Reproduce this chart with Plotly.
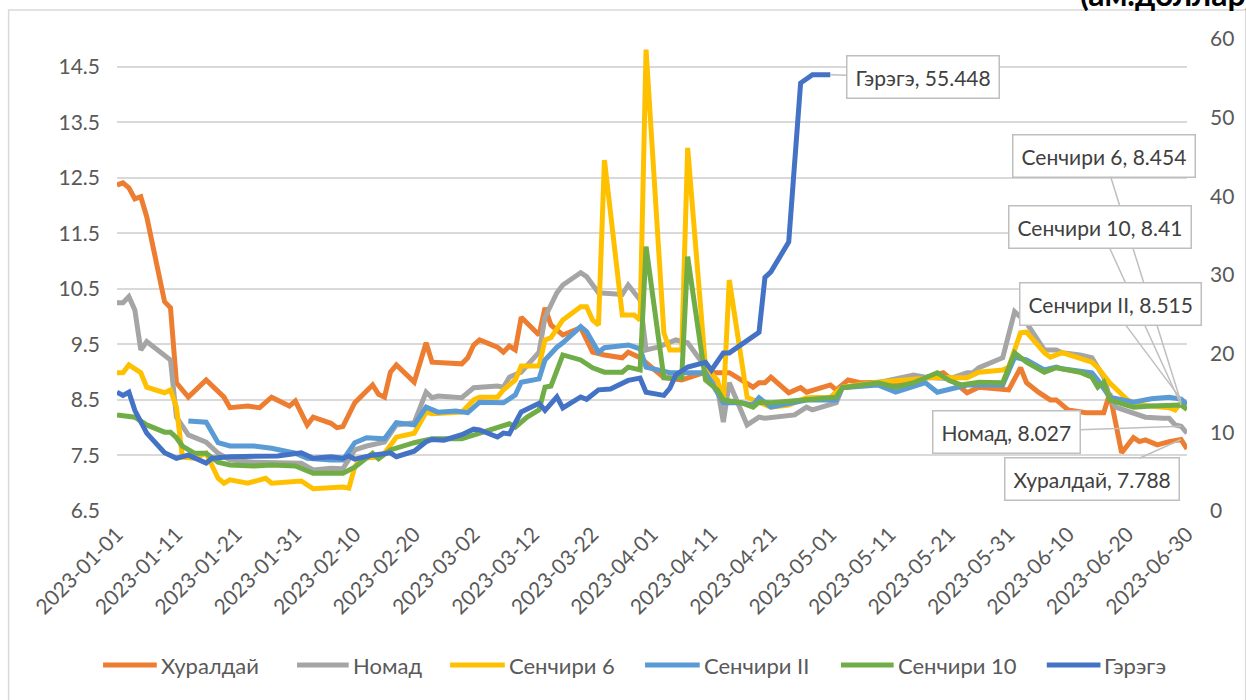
import plotly.graph_objects as go

# ---------------- data ----------------
hur_dates = ["2023-01-01","2023-01-02","2023-01-03","2023-01-04","2023-01-05","2023-01-06","2023-01-09","2023-01-10",
             "2023-01-11","2023-01-13","2023-01-16","2023-01-19","2023-01-20","2023-01-23","2023-01-25","2023-01-27",
             "2023-01-30","2023-01-31","2023-02-02","2023-02-03","2023-02-06","2023-02-07","2023-02-08","2023-02-10",
             "2023-02-13","2023-02-14","2023-02-15","2023-02-16","2023-02-17","2023-02-20","2023-02-22","2023-02-23",
             "2023-02-28","2023-03-01","2023-03-02","2023-03-03","2023-03-06","2023-03-07","2023-03-08","2023-03-09",
             "2023-03-10","2023-03-13","2023-03-14","2023-03-15","2023-03-17","2023-03-20","2023-03-22","2023-03-24",
             "2023-03-27","2023-03-28","2023-03-30","2023-04-03","2023-04-06","2023-04-10","2023-04-12","2023-04-14",
             "2023-04-16","2023-04-18","2023-04-19","2023-04-20","2023-04-21","2023-04-24","2023-04-26","2023-04-27",
             "2023-05-01","2023-05-02","2023-05-04","2023-05-06","2023-05-10","2023-05-12","2023-05-16","2023-05-17",
             "2023-05-20","2023-05-22","2023-05-24","2023-05-26","2023-05-31","2023-06-02","2023-06-03","2023-06-05",
             "2023-06-07","2023-06-08","2023-06-10","2023-06-13","2023-06-16","2023-06-17","2023-06-19","2023-06-21",
             "2023-06-22","2023-06-23","2023-06-25","2023-06-27","2023-06-29","2023-06-30"]
hur_vals = [12.37,12.41,12.32,12.12,12.16,11.80,10.27,10.16,
            8.81,8.55,8.86,8.55,8.36,8.39,8.36,8.55,
            8.39,8.48,8.05,8.19,8.08,8.00,8.02,8.45,
            8.77,8.60,8.55,9.00,9.13,8.82,9.53,9.18,
            9.15,9.26,9.49,9.58,9.45,9.36,9.47,9.40,
            9.99,9.67,10.16,9.85,9.67,9.80,9.36,9.31,
            9.26,9.36,9.26,8.90,8.86,9.00,8.99,8.99,
            8.86,8.73,8.81,8.81,8.91,8.63,8.72,8.64,
            8.77,8.68,8.86,8.81,8.82,8.77,8.86,8.90,
            8.99,8.80,8.63,8.73,8.68,9.08,8.81,8.64,
            8.50,8.50,8.32,8.27,8.27,8.62,7.55,7.82,
            7.75,7.78,7.69,7.75,7.788,7.62]

nom_dates = ["2023-01-01","2023-01-02","2023-01-03","2023-01-04","2023-01-05","2023-01-06","2023-01-10","2023-01-11",
             "2023-01-13","2023-01-16","2023-01-18","2023-01-20","2023-01-24","2023-01-28","2023-02-01","2023-02-03",
             "2023-02-06","2023-02-08","2023-02-10","2023-02-12","2023-02-15","2023-02-17","2023-02-20","2023-02-22",
             "2023-02-23","2023-02-24","2023-02-28","2023-03-02","2023-03-06","2023-03-07","2023-03-08","2023-03-10",
             "2023-03-13","2023-03-14","2023-03-16","2023-03-17","2023-03-20","2023-03-21","2023-03-23","2023-03-27",
             "2023-03-28","2023-03-30","2023-03-31","2023-04-02","2023-04-05","2023-04-07","2023-04-10","2023-04-12",
             "2023-04-13","2023-04-14","2023-04-17","2023-04-19","2023-04-20","2023-04-25","2023-04-27","2023-04-28",
             "2023-05-02","2023-05-03","2023-05-09","2023-05-15","2023-05-17","2023-05-21","2023-05-24","2023-05-25",
             "2023-05-26","2023-05-30","2023-06-01","2023-06-03","2023-06-06","2023-06-08","2023-06-09","2023-06-12",
             "2023-06-14","2023-06-16","2023-06-17","2023-06-18","2023-06-21","2023-06-23","2023-06-26","2023-06-27",
             "2023-06-28","2023-06-29","2023-06-30"]
nom_vals = [10.25,10.25,10.36,10.12,9.40,9.55,9.22,8.19,
            7.87,7.74,7.54,7.42,7.38,7.38,7.36,7.24,
            7.27,7.26,7.60,7.67,7.74,8.05,8.09,8.64,
            8.54,8.57,8.54,8.72,8.75,8.73,8.91,9.00,
            9.36,9.99,10.43,10.57,10.79,10.72,10.43,10.40,
            10.57,10.30,9.40,9.45,9.58,9.53,9.09,8.72,
            8.10,8.81,8.05,8.19,8.17,8.23,8.37,8.32,
            8.45,8.72,8.81,8.95,8.91,8.88,8.99,8.99,
            9.08,9.26,10.09,9.89,9.40,9.40,9.35,9.31,
            9.26,8.91,8.55,8.37,8.27,8.19,8.17,8.17,
            8.05,8.027,7.90]

s6_dates = ["2023-01-01","2023-01-02","2023-01-03","2023-01-05","2023-01-06","2023-01-09","2023-01-10","2023-01-11",
            "2023-01-12","2023-01-14","2023-01-16","2023-01-18","2023-01-19","2023-01-20","2023-01-23","2023-01-25",
            "2023-01-26","2023-01-27","2023-02-01","2023-02-03","2023-02-06","2023-02-08","2023-02-09","2023-02-10",
            "2023-02-11","2023-02-14","2023-02-15","2023-02-17","2023-02-20","2023-02-22","2023-02-23","2023-02-28",
            "2023-03-02","2023-03-03","2023-03-06","2023-03-07","2023-03-09","2023-03-10","2023-03-13","2023-03-14",
            "2023-03-15","2023-03-17","2023-03-20","2023-03-21","2023-03-22","2023-03-23","2023-03-24","2023-03-27",
            "2023-03-29","2023-03-30","2023-03-31","2023-04-03","2023-04-04","2023-04-06","2023-04-07","2023-04-10",
            "2023-04-12","2023-04-13","2023-04-14","2023-04-17","2023-04-18","2023-04-19","2023-04-21","2023-04-24",
            "2023-04-27","2023-05-01","2023-05-03","2023-05-09","2023-05-19","2023-05-22","2023-05-24","2023-05-26",
            "2023-05-30","2023-05-31","2023-06-02","2023-06-03","2023-06-06","2023-06-07","2023-06-09","2023-06-14",
            "2023-06-15","2023-06-17","2023-06-20","2023-06-22","2023-06-25","2023-06-27","2023-06-28","2023-06-29",
            "2023-06-30"]
s6_vals = [8.99,8.99,9.13,8.99,8.73,8.63,8.68,8.37,
           7.47,7.45,7.54,7.09,7.00,7.06,7.00,7.06,
           7.09,7.00,7.04,6.90,6.91,6.93,6.91,7.29,
           7.45,7.47,7.54,7.83,7.90,8.28,8.25,8.28,
           8.50,8.55,8.55,8.68,8.86,9.11,9.11,9.58,
           9.62,9.94,10.18,10.18,9.94,9.85,12.82,10.03,
           10.03,9.94,14.81,9.71,9.40,9.40,13.04,9.09,
           8.86,8.45,10.66,8.55,8.50,8.45,8.37,8.41,
           8.54,8.55,8.73,8.82,8.91,8.90,8.90,9.00,
           9.04,9.09,9.71,9.72,9.35,9.27,9.35,9.18,
           9.08,8.81,8.50,8.41,8.37,8.36,8.32,8.454,
           8.36]

s2_dates = ["2023-01-13","2023-01-16","2023-01-18","2023-01-20","2023-01-24","2023-01-27","2023-01-31","2023-02-02",
            "2023-02-06","2023-02-08","2023-02-10","2023-02-12","2023-02-15","2023-02-17","2023-02-20","2023-02-22",
            "2023-02-24","2023-02-27","2023-03-01","2023-03-03","2023-03-07","2023-03-09","2023-03-10","2023-03-13",
            "2023-03-14","2023-03-16","2023-03-17","2023-03-20","2023-03-21","2023-03-23","2023-03-24","2023-03-28",
            "2023-03-30","2023-03-31","2023-04-04","2023-04-07","2023-04-10","2023-04-12","2023-04-13","2023-04-16",
            "2023-04-18","2023-04-19","2023-04-21","2023-04-27","2023-05-02","2023-05-03","2023-05-09","2023-05-12",
            "2023-05-15","2023-05-17","2023-05-19","2023-05-22","2023-05-24","2023-05-30","2023-06-01","2023-06-03",
            "2023-06-06","2023-06-08","2023-06-09","2023-06-14","2023-06-15","2023-06-17","2023-06-21","2023-06-24",
            "2023-06-27","2023-06-29","2023-06-30"]
s2_vals = [8.12,8.10,7.73,7.67,7.67,7.63,7.54,7.45,
           7.42,7.42,7.73,7.82,7.80,8.09,8.05,8.37,
           8.28,8.30,8.27,8.46,8.45,8.59,8.82,8.88,
           9.22,9.45,9.53,9.82,9.73,9.36,9.44,9.49,
           9.42,9.09,8.99,9.00,8.99,8.63,8.45,8.45,
           8.41,8.54,8.37,8.50,8.50,8.72,8.77,8.64,
           8.73,8.81,8.64,8.73,8.77,8.77,9.27,9.22,
           9.04,9.09,9.06,8.99,8.86,8.55,8.46,8.52,
           8.55,8.515,8.42]

s10_dates = ["2023-01-01","2023-01-04","2023-01-06","2023-01-09","2023-01-10","2023-01-11","2023-01-12","2023-01-14",
             "2023-01-16","2023-01-18","2023-01-20","2023-01-24","2023-01-27","2023-01-31","2023-02-03","2023-02-06",
             "2023-02-08","2023-02-10","2023-02-13","2023-02-14","2023-02-16","2023-02-20","2023-02-23","2023-02-28",
             "2023-03-03","2023-03-06","2023-03-08","2023-03-09","2023-03-11","2023-03-13","2023-03-14","2023-03-15",
             "2023-03-17","2023-03-20","2023-03-22","2023-03-24","2023-03-27","2023-03-28","2023-03-30","2023-03-31",
             "2023-04-03","2023-04-06","2023-04-07","2023-04-10","2023-04-12","2023-04-13","2023-04-16","2023-04-18",
             "2023-04-19","2023-04-21","2023-04-27","2023-05-02","2023-05-03","2023-05-09","2023-05-12","2023-05-15",
             "2023-05-17","2023-05-19","2023-05-21","2023-05-23","2023-05-26","2023-05-30","2023-06-01","2023-06-03",
             "2023-06-06","2023-06-08","2023-06-12","2023-06-14","2023-06-15","2023-06-16","2023-06-17","2023-06-21",
             "2023-06-24","2023-06-27","2023-06-29","2023-06-30"]
s10_vals = [8.23,8.19,8.05,7.92,7.92,7.82,7.67,7.54,
            7.54,7.38,7.33,7.31,7.33,7.31,7.18,7.18,
            7.18,7.29,7.54,7.44,7.60,7.73,7.80,7.80,
            7.90,8.00,8.07,8.01,8.19,8.32,8.73,8.75,
            9.31,9.22,9.08,9.00,9.00,9.09,9.04,11.26,
            8.90,8.90,11.08,8.86,8.68,8.50,8.45,8.37,
            8.46,8.45,8.50,8.55,8.72,8.81,8.73,8.81,
            8.90,8.99,8.85,8.77,8.82,8.81,9.35,9.18,
            9.00,9.08,9.00,8.91,8.73,8.82,8.50,8.37,
            8.39,8.40,8.41,8.33]

ger_dates = ["2023-01-01","2023-01-02","2023-01-03","2023-01-04","2023-01-06","2023-01-09","2023-01-11","2023-01-13",
             "2023-01-16","2023-01-17","2023-01-20","2023-01-24","2023-01-28","2023-02-01","2023-02-03","2023-02-06",
             "2023-02-08","2023-02-09","2023-02-10","2023-02-13","2023-02-16","2023-02-17","2023-02-20","2023-02-22",
             "2023-02-23","2023-02-25","2023-02-28","2023-03-02","2023-03-03","2023-03-06","2023-03-07","2023-03-08",
             "2023-03-10","2023-03-13","2023-03-14","2023-03-16","2023-03-17","2023-03-20","2023-03-21","2023-03-23",
             "2023-03-25","2023-03-28","2023-03-30","2023-03-31","2023-04-03","2023-04-04","2023-04-05","2023-04-07",
             "2023-04-10","2023-04-11","2023-04-13","2023-04-14","2023-04-17","2023-04-19","2023-04-20","2023-04-21",
             "2023-04-24","2023-04-26","2023-04-28","2023-05-01"]
ger_vals = [15.1,14.7,15.1,12.8,9.9,7.4,6.7,7.1,
            6.1,6.7,6.9,6.9,7.0,7.4,6.7,6.9,
            6.7,7.0,6.6,7.1,7.4,6.9,7.6,8.8,
            9.1,9.0,9.7,10.4,10.3,9.4,9.9,9.8,
            12.6,13.7,12.8,14.5,13.1,14.5,14.2,15.4,
            15.5,16.6,16.9,15.1,14.7,15.6,17.3,18.3,
            18.9,17.9,20.1,20.1,21.6,22.7,29.7,30.4,
            34.2,54.4,55.448,55.448]

series_names = ["Хуралдай", "Номад", "Сенчири 6", "Сенчири II", "Сенчири 10", "Гэрэгэ"]
series_colors = ["#ED7D31", "#A5A5A5", "#FFC000", "#5B9BD5", "#70AD47", "#4472C4"]

left_ticks = [6.5, 7.5, 8.5, 9.5, 10.5, 11.5, 12.5, 13.5, 14.5]
right_ticks = [0, 10, 20, 30, 40, 50, 60]
x_ticks = ["2023-01-01","2023-01-11","2023-01-21","2023-01-31","2023-02-10","2023-02-20","2023-03-02",
           "2023-03-12","2023-03-22","2023-04-01","2023-04-11","2023-04-21","2023-05-01","2023-05-11",
           "2023-05-21","2023-05-31","2023-06-10","2023-06-20","2023-06-30"]

unit_title = "(ам.доллар)"

# ---------------- layout helpers (pixels -> paper) ----------------
W, H = 1246, 700
PL, PR, PT, PB = 117, 1193, 39, 511
def px_x(p):
    return (p - PL) / (PR - PL)
def px_y(p):
    return (PB - p) / (PB - PT)

FONT = "Lato, 'Noto Sans', sans-serif"
TXT = "#595959"

fig = go.Figure()
data = [(hur_dates, hur_vals), (nom_dates, nom_vals), (s6_dates, s6_vals),
        (s2_dates, s2_vals), (s10_dates, s10_vals), (ger_dates, ger_vals)]
for (d, v), name, col in zip(data, series_names, series_colors):
    fig.add_trace(go.Scatter(x=d, y=v, name=name, mode="lines",
                             line=dict(color=col, width=5),
                             yaxis="y2" if name == "Гэрэгэ" else "y"))

fig.update_layout(
    width=W, height=H, autosize=False,
    margin=dict(l=PL, r=W - PR, t=PT, b=H - PB),
    paper_bgcolor="white", plot_bgcolor="white",
    font=dict(family=FONT, size=21, color=TXT),
    showlegend=False,
    xaxis=dict(type="date", range=["2023-01-01", "2023-06-30"], tickvals=x_ticks,
               ticktext=x_ticks, tickangle=-45, showgrid=False, showline=False,
               zeroline=False, ticks="", ticklabelstandoff=6, tickfont=dict(size=21, color=TXT)),
    yaxis=dict(range=[6.5, 15.0], tickvals=left_ticks, ticktext=[f"{t:.1f}" for t in left_ticks],
               showgrid=True, gridcolor="#D9D9D9", gridwidth=1.5, zeroline=False,
               showline=False, ticks="", ticklabelstandoff=16, tickfont=dict(size=21, color=TXT)),
    yaxis2=dict(range=[0, 60], tickvals=right_ticks, overlaying="y", side="right",
                showgrid=False, zeroline=False, showline=False, ticks="",
                ticklabelstandoff=22, tickfont=dict(size=21, color=TXT)),
)

# callout labels
ann_style = dict(showarrow=True, arrowhead=0, arrowwidth=1.5, arrowcolor="#BFBFBF",
                 bgcolor="white", bordercolor="#BFBFBF", borderwidth=1.5, borderpad=8,
                 font=dict(family=FONT, size=21, color="#404040"), standoff=0)
labels = [
    ("Гэрэгэ", ger_dates[-1], ger_vals[-1], "y2", 93, 2),
    ("Сенчири 6", s6_dates[-2], s6_vals[-2], "y", -77, -247),
    ("Сенчири 10", s10_dates[-2], s10_vals[-2], "y", -81, -178),
    ("Сенчири II", s2_dates[-2], s2_vals[-2], "y", -71, -95),
    ("Номад", nom_dates[-2], nom_vals[-2], "y", -175, 6),
    ("Хуралдай", hur_dates[-2], hur_vals[-2], "y", -89, 40),
]
for name, xd, yv, yr, ax, ay in labels:
    fig.add_annotation(x=xd, y=yv, xref="x", yref=yr, ax=ax, ay=ay,
                       text=f"{name}, {yv:g}", **ann_style)

# legend drawn at the bottom (line sample + label)
legend_pos = [(103, 157), (298, 350), (452, 507), (648, 703), (845, 898), (1052, 1106)]
LEG_Y = 665
for name, col, (x0, x1) in zip(series_names, series_colors, legend_pos):
    fig.add_shape(type="line", xref="paper", yref="paper",
                  x0=px_x(x0), x1=px_x(x1), y0=px_y(LEG_Y), y1=px_y(LEG_Y),
                  line=dict(color=col, width=5))
    fig.add_annotation(x=px_x(x1 + 2), y=px_y(LEG_Y), xref="paper", yref="paper",
                       xanchor="left", yanchor="middle", showarrow=False, text=name,
                       font=dict(family=FONT, size=22, color=TXT))

# unit title (cut at the top edge)
fig.add_annotation(x=px_x(1083), y=px_y(-7), xref="paper", yref="paper",
                   xanchor="left", yanchor="middle", showarrow=False, text=f"<b>{unit_title}</b>",
                   font=dict(family=FONT, size=32, color="#000000"))

# chart border
fig.add_shape(type="rect", xref="paper", yref="paper",
              x0=px_x(8), x1=px_x(1252), y0=px_y(712), y1=px_y(10),
              line=dict(color="#D9D9D9", width=1.5), fillcolor="rgba(0,0,0,0)", layer="below")

fig.write_html("out.html", config={"displayModeBar": False},
               post_script="document.body.style.margin='0px';")
